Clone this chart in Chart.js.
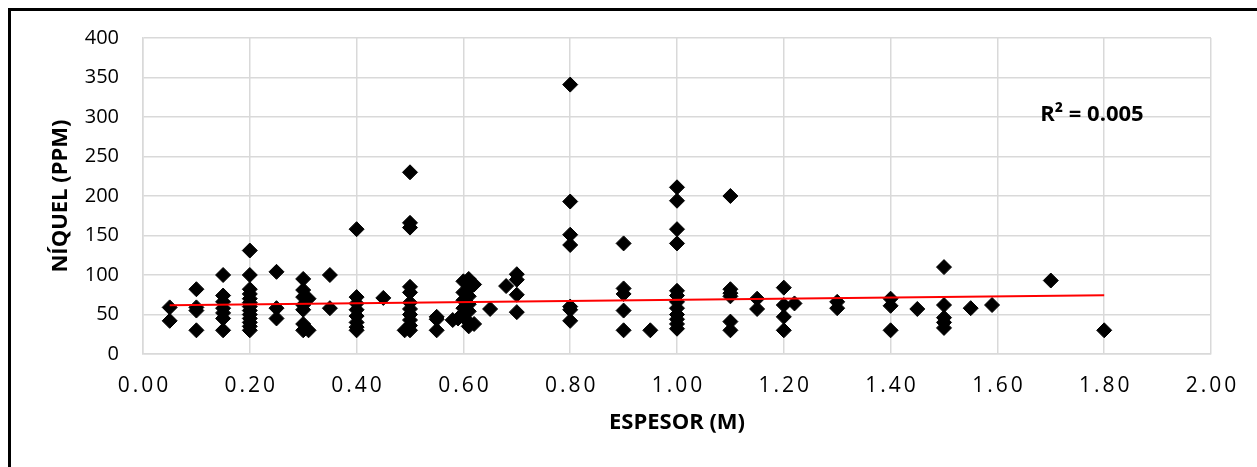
<!DOCTYPE html>
<html>
<head>
<meta charset="utf-8">
<title>Espesor vs Níquel</title>
<script src="https://cdn.jsdelivr.net/npm/chart.js@4.4.0/dist/chart.umd.min.js"></script>
<style>
  html, body { margin: 0; padding: 0; background: #fff; }
  #wrap { position: relative; width: 1257px; height: 467px; overflow: hidden; }
  #frame { position: absolute; left: 8px; top: 8px; width: 1400px; height: 600px;
           border-left: 3px solid #000; border-top: 3px solid #000; }
  #chart { position: absolute; left: 0; top: 0; }
</style>
</head>
<body>
<div id="wrap">
  <div id="frame"></div>
  <canvas id="chart" width="1257" height="467"></canvas>
</div>
<script>
// Espesor (m) of each sample
const espesor = [
  0.05, 0.05,
  0.10, 0.10, 0.10, 0.10,
  0.15, 0.15, 0.15, 0.15, 0.15, 0.15, 0.15,
  0.20, 0.20, 0.20, 0.20, 0.20, 0.20, 0.20, 0.20, 0.20, 0.20, 0.20, 0.20, 0.20,
  0.25, 0.25, 0.25,
  0.30, 0.30, 0.30, 0.30, 0.30, 0.30, 0.30,
  0.31, 0.31,
  0.35, 0.35,
  0.40, 0.40, 0.40, 0.40, 0.40, 0.40, 0.40, 0.40,
  0.45,
  0.49,
  0.50, 0.50, 0.50, 0.50, 0.50, 0.50, 0.50, 0.50, 0.50, 0.50, 0.50,
  0.55, 0.55, 0.55,
  0.61, 0.60, 0.62, 0.61, 0.60, 0.61, 0.60, 0.61, 0.60, 0.61, 0.60, 0.59, 0.58, 0.61, 0.61, 0.62,
  0.65,
  0.68,
  0.70, 0.70, 0.70, 0.70,
  0.80, 0.80, 0.80, 0.80, 0.80, 0.80, 0.80,
  0.90, 0.90, 0.90, 0.90, 0.90,
  0.95,
  1.00, 1.00, 1.00, 1.00, 1.00, 1.00, 1.00, 1.00, 1.00, 1.00, 1.00, 1.00,
  1.10, 1.10, 1.10, 1.10, 1.10, 1.10,
  1.15, 1.15,
  1.20, 1.20, 1.20, 1.20,
  1.22,
  1.30, 1.30,
  1.40, 1.40, 1.40,
  1.45,
  1.50, 1.50, 1.50, 1.50, 1.50,
  1.55,
  1.59,
  1.70,
  1.80
];

// Níquel (ppm), same order as espesor
const niquel = [
  59, 42,
  82, 59, 55, 30,
  100, 74, 66, 58, 52, 45, 30,
  131, 100, 82, 76, 70, 65, 60, 55, 50, 45, 40, 35, 30,
  104, 58, 45,
  95, 81, 72, 62, 56, 38, 30,
  70, 30,
  100, 58,
  158, 72, 64, 56, 48, 40, 34, 30,
  71,
  30,
  230, 166, 160, 85, 78, 65, 57, 50, 43, 36, 30,
  47, 44, 30,
  95, 92, 88, 82, 78, 73, 68, 63, 58, 54, 50, 45, 43, 40, 35, 38,
  57,
  86,
  101, 94, 75, 53,
  341, 193, 151, 138, 60, 56, 42,
  140, 83, 76, 55, 30,
  30,
  211, 194, 158, 140, 80, 74, 66, 58, 50, 44, 38, 32,
  200, 82, 77, 73, 41, 30,
  70, 57,
  84, 62, 47, 30,
  64,
  66, 58,
  70, 61, 30,
  57,
  110, 62, 46, 40, 33,
  58,
  62,
  93,
  30
];

// linear trendline end points
const trendX = [0.05, 1.80];
const trendY = [61.7, 74.3];
const r2Text = "R² = 0.005";

const points = espesor.map((x, i) => ({ x: x, y: niquel[i] }));
const trend = trendX.map((x, i) => ({ x: x, y: trendY[i] }));

const FONT = "'Open Sans', 'Noto Sans', sans-serif";

// x tick labels are letter-spaced in the original
const spacedTicks = {
  id: "spacedTicks",
  beforeDraw(chart) {
    const sx = chart.scales.x;
    if (sx._spaced) return;
    const orig = sx.drawLabels;
    sx.drawLabels = function (area) {
      this.ctx.save();
      this.ctx.letterSpacing = "3px";
      this.ctx.translate(1.5, 0);
      orig.call(this, area);
      this.ctx.restore();
    };
    sx._spaced = true;
  }
};

// R² text
const r2Label = {
  id: "r2Label",
  afterDatasetsDraw(chart) {
    const { ctx, scales } = chart;
    ctx.save();
    ctx.font = "bold 22px " + FONT;
    ctx.fillStyle = "#000";
    ctx.textAlign = "center";
    ctx.textBaseline = "middle";
    ctx.fillText(r2Text, scales.x.getPixelForValue(1.777), scales.y.getPixelForValue(303));
    ctx.restore();
  }
};

const config = {
  type: "scatter",
  data: {
    datasets: [
      {
        label: "Lineal",
        data: trend,
        showLine: true,
        borderColor: "#ff0000",
        borderWidth: 2,
        pointRadius: 0,
        fill: false
      },
      {
        label: "Níquel",
        data: points,
        pointStyle: "rectRot",
        pointRadius: 7.5,
        pointBackgroundColor: "#000",
        pointBorderColor: "#000",
        pointBorderWidth: 1
      }
    ]
  },
  options: {
    responsive: false,
    animation: false,
    layout: { padding: { left: 0, top: 38, right: 46, bottom: 0 } },
    plugins: {
      legend: { display: false },
      tooltip: { enabled: false }
    },
    scales: {
      x: {
        type: "linear",
        min: 0,
        max: 2,
        afterFit: (s) => { s.height = 113; },
        ticks: {
          stepSize: 0.2,
          autoSkip: false,
          maxRotation: 0,
          padding: 19,
          color: "#000",
          font: { family: FONT, size: 21 },
          callback: (v) => v.toFixed(2)
        },
        grid: { color: "#d9d9d9", lineWidth: 1.5, drawTicks: false },
        border: { color: "#d9d9d9", width: 1.5 },
        title: {
          display: true,
          text: "ESPESOR (M)",
          color: "#000",
          font: { family: FONT, size: 22, weight: "bold" },
          padding: { top: 0, bottom: 31 }
        }
      },
      y: {
        min: 0,
        max: 400,
        afterFit: (s) => { s.width = 143; },
        ticks: {
          stepSize: 50,
          padding: 24,
          color: "#000",
          font: { family: FONT, size: 20 }
        },
        grid: { color: "#d9d9d9", lineWidth: 1.5, drawTicks: false },
        border: { color: "#d9d9d9", width: 1.5 },
        title: {
          display: true,
          text: "NÍQUEL (PPM)",
          color: "#000",
          font: { family: FONT, size: 22, weight: "bold" },
          padding: { top: 48, bottom: 0 }
        }
      }
    }
  },
  plugins: [spacedTicks, r2Label]
};

const myChart = new Chart(document.getElementById("chart"), config);
</script>
</body>
</html>
